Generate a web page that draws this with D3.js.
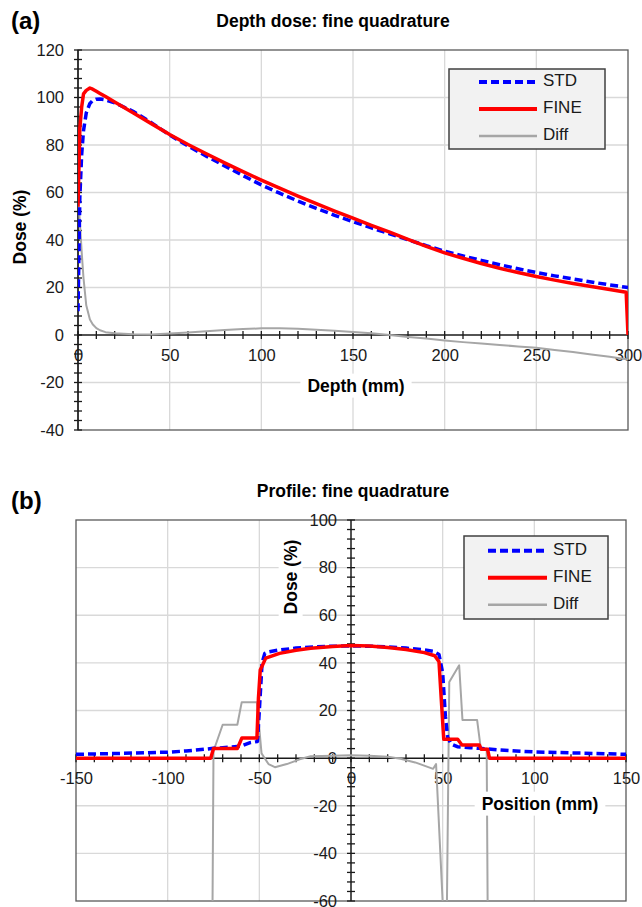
<!DOCTYPE html>
<html>
<head>
<meta charset="utf-8">
<script src="https://d3js.org/d3.v7.min.js"></script>
<style>
body { margin: 0; background: #fff; }
text { font-family: "Liberation Sans", Arial, sans-serif; }
</style>
</head>
<body>
<svg id="chart" width="642" height="907"></svg>
<script>
// ---- (a) depth dose data ----
const depth = [0, 1, 2, 3, 4.5, 6.5, 8, 10, 12, 15, 20, 30, 40, 50, 60, 70, 80, 90, 100, 110,
  120, 130, 140, 150, 160, 170, 180, 190, 200, 210, 220, 230, 240, 250, 260, 270, 280, 290, 299, 300];
const depthStd = [10, 58, 76, 86, 93.5, 97.5, 98.7, 99.3, 99.4, 99, 97.8, 94.2, 89.4, 84.2, 79.6, 75.3, 71.2, 67.1, 63.2, 59.7,
  56.4, 53.3, 50.4, 47.7, 45.1, 42.6, 40.1, 37.6, 35.3, 33.3, 31.4, 29.6, 27.9, 26.3, 24.9, 23.6, 22.3, 21.1, 20.1, 20];
const depthFine = [54, 87, 96, 101.5, 103, 104, 103.5, 102.6, 101.7, 100.4, 98.1, 93.6, 89, 84.4, 80.2, 76.3, 72.5, 68.8, 65.2, 61.8,
  58.5, 55.3, 52.2, 49.2, 46.2, 43.3, 40.3, 37.3, 34.6, 32.3, 30.1, 28.1, 26.3, 24.6, 23.1, 21.7, 20.4, 19.2, 18, 0];
const depthDiff = [57, 48, 35, 24, 12.5, 6.5, 4.5, 2.9, 2, 1.2, 0.7, 0.3, 0.2, 0.6, 1.1, 1.6, 2.1, 2.5, 2.8, 2.8,
  2.6, 2.2, 1.8, 1.3, 0.7, 0, -0.8, -1.5, -2.3, -3, -3.6, -4.2, -4.8, -5.4, -6.3, -7.2, -8.2, -9.2, -10.2, -10.3];

// ---- (b) profile data ----
const posStd = [-150, -125, -100, -90, -80, -75, -70, -65, -60, -55, -51, -50, -48.5, -47, -45, -40, -30, -20, -10, 0,
  10, 20, 30, 40, 45, 48, 50, 51.5, 52.7, 54.5, 58, 65, 70, 75, 80, 90, 100, 125, 150];
const profStd = [1.6, 2.0, 2.5, 3.0, 3.7, 4.1, 4.4, 4.7, 5.0, 6.5, 7.0, 20, 40, 44, 44.6, 45.3, 46.2, 46.7, 47, 47.1,
  47, 46.7, 46.2, 45.5, 44.8, 43.5, 35.7, 17.4, 8.9, 6.0, 4.8, 4.4, 4.1, 3.8, 3.5, 3.0, 2.6, 2.1, 1.6];
const posFine = [-150, -76.5, -75, -62, -59.5, -51.3, -50.5, -49.5, -46.5, -39, -30, -22, -10, 0, 10, 20, 30, 40, 45.7, 48,
  49.3, 50.6, 58.2, 60.5, 70, 71, 74.5, 75.5, 150];
const profFine = [0, 0, 4, 4, 8.5, 8.5, 25, 37, 42, 44, 45.3, 46.1, 46.9, 47.3, 47.1, 46.5, 45.6, 44.3, 43, 40.5,
  24, 7.9, 7.9, 5.5, 5.5, 3.7, 3.7, 0, 0];
const posDiff = [-150, -75.6, -75, -70, -62, -59.6, -51.3, -48.8, -45, -41.5, -35, -28, -22, -10, 0, 10, 20, 27, 35, 44.8,
  46.4, 50.6, 52.2, 53.6, 59, 60.8, 68.8, 70.8, 74, 74.6, 150];
const profDiff = [-70, -70, 3, 14, 14, 23.5, 23.5, 2, -2.5, -3.8, -2.5, -0.5, 0.8, 1, 1.2, 1, 0.6, -0.3, -1.8, -4.5,
  -2.5, -70, -70, 32, 39, 16, 16, 4, 4, -70, -70];

const seriesNames = ["STD", "FINE", "Diff"];
const seriesColors = ["#0000ff", "#ff0000", "#a6a6a6"];
const seriesWidths = [3.5, 3.5, 2];
const seriesDash = ["8,4", null, null];

const svg = d3.select("#chart");
const tickFont = 16.5, boldFont = 17.5;

function addBoxedText(parent, x, y, txt, rotate) {
  const g = parent.append("g").attr("transform", `translate(${x},${y})` + (rotate ? " rotate(-90)" : ""));
  const t = g.append("text").attr("text-anchor", "middle").attr("dominant-baseline", "middle")
    .attr("font-size", boldFont).attr("font-weight", "bold").attr("fill", "#000").text(txt);
  const b = t.node().getBBox();
  g.insert("rect", "text").attr("x", b.x - 7).attr("y", b.y - 2).attr("width", b.width + 14).attr("height", b.height + 4)
    .attr("fill", "#fff");
}

function panel(opt) {
  const x = d3.scaleLinear().domain(opt.xDomain).range(opt.xRange);
  const y = d3.scaleLinear().domain(opt.yDomain).range(opt.yRange);
  const [left, right] = opt.xRange;
  const [bottom, top] = opt.yRange;
  const g = svg.append("g");

  // gridlines
  g.selectAll(".gx").data(opt.xTicks).join("line")
    .attr("x1", d => x(d)).attr("x2", d => x(d)).attr("y1", top).attr("y2", bottom)
    .attr("stroke", "#d9d9d9").attr("stroke-width", 1.3);
  g.selectAll(".gy").data(opt.yTicks).join("line")
    .attr("x1", left).attr("x2", right).attr("y1", d => y(d)).attr("y2", d => y(d))
    .attr("stroke", "#d9d9d9").attr("stroke-width", 1.3);

  g.append("rect").attr("x", left).attr("y", top).attr("width", right - left).attr("height", bottom - top)
    .attr("fill", "none").attr("stroke", "#595959").attr("stroke-width", 1.3);

  // axis lines through zero
  g.append("line").attr("x1", left).attr("x2", right).attr("y1", y(0)).attr("y2", y(0))
    .attr("stroke", "#1a1a1a").attr("stroke-width", 1.5);
  g.append("line").attr("x1", x(0)).attr("x2", x(0)).attr("y1", top).attr("y2", bottom)
    .attr("stroke", "#1a1a1a").attr("stroke-width", 1.5);

  // crossing ticks
  g.selectAll(".tx").data(d3.range(opt.xDomain[0], opt.xDomain[1] + 0.1, opt.xMinor)).join("line")
    .attr("x1", d => x(d)).attr("x2", d => x(d)).attr("y1", y(0) - 4).attr("y2", y(0) + 4)
    .attr("stroke", "#1a1a1a").attr("stroke-width", 1.3);
  g.selectAll(".ty").data(d3.range(opt.yDomain[0], opt.yDomain[1] + 0.1, opt.yMinor)).join("line")
    .attr("x1", x(0) - 4).attr("x2", x(0) + 4).attr("y1", d => y(d)).attr("y2", d => y(d))
    .attr("stroke", "#1a1a1a").attr("stroke-width", 1.3);

  // tick labels
  const ax = g.append("g").attr("transform", `translate(0,${y(0)})`)
    .call(d3.axisBottom(x).tickValues(opt.xTicks.concat(opt.xEnds)).tickSize(0).tickPadding(14).tickFormat(d => String(d)));
  const ay = g.append("g").attr("transform", `translate(${x(0)},0)`)
    .call(d3.axisLeft(y).tickValues(opt.yTicks.concat(opt.yEnds)).tickSize(0).tickPadding(14).tickFormat(d => String(d)));
  [ax, ay].forEach(a => {
    a.select(".domain").remove();
    a.attr("font-family", null).attr("font-size", tickFont);
    a.selectAll("text").attr("fill", "#1a1a1a");
  });

  // series
  const clipId = "clip" + opt.id;
  svg.append("clipPath").attr("id", clipId).append("rect")
    .attr("x", left).attr("y", top).attr("width", right - left).attr("height", bottom - top);
  const line = d3.line().x(d => x(d[0])).y(d => y(d[1]));
  const sg = g.append("g").attr("clip-path", `url(#${clipId})`);
  [2, 0, 1].forEach(i => {
    const s = opt.series[i];
    sg.append("path").datum(d3.zip(s.x, s.y)).attr("d", line)
      .attr("fill", "none").attr("stroke", seriesColors[i]).attr("stroke-width", seriesWidths[i])
      .attr("stroke-dasharray", seriesDash[i]).attr("stroke-linejoin", "round");
  });

  // axis titles
  addBoxedText(g, opt.xTitlePos[0], opt.xTitlePos[1], opt.xTitle, false);
  if (opt.yTitleBox) addBoxedText(g, opt.yTitlePos[0], opt.yTitlePos[1], "Dose (%)", true);
  else g.append("text").attr("transform", `translate(${opt.yTitlePos[0]},${opt.yTitlePos[1]}) rotate(-90)`)
    .attr("text-anchor", "middle").attr("dominant-baseline", "middle")
    .attr("font-size", boldFont).attr("font-weight", "bold").text("Dose (%)");

  // chart title and panel tag
  g.append("text").attr("x", opt.titlePos[0]).attr("y", opt.titlePos[1]).attr("text-anchor", "middle")
    .attr("font-size", boldFont).attr("font-weight", "bold").text(opt.title);
  g.append("text").attr("x", 11).attr("y", opt.tagY).attr("font-size", 24).attr("font-weight", "bold").text(opt.tag);

  // legend
  const L = opt.legend;
  const lg = g.append("g");
  lg.append("rect").attr("x", L.x).attr("y", L.y).attr("width", L.w).attr("height", L.h)
    .attr("fill", "#f2f2f2").attr("stroke", "#404040").attr("stroke-width", 1.5);
  seriesNames.forEach((name, i) => {
    const ry = L.y + L.first + i * 27;
    lg.append("line").attr("x1", L.l1).attr("x2", L.l2).attr("y1", ry).attr("y2", ry)
      .attr("stroke", seriesColors[i]).attr("stroke-width", seriesWidths[i] + 0.5).attr("stroke-dasharray", seriesDash[i]);
    lg.append("text").attr("x", L.l2 + 6).attr("y", ry).attr("dominant-baseline", "middle")
      .attr("font-size", 17).attr("fill", "#1a1a1a").text(name);
  });
}

panel({
  id: "a", tag: "(a)", tagY: 29, title: "Depth dose: fine quadrature", titlePos: [333, 27],
  xDomain: [0, 300], xRange: [78, 628], yDomain: [-40, 120], yRange: [430, 50],
  xTicks: [50, 100, 150, 200, 250], xEnds: [0, 300], xMinor: 10,
  yTicks: [-20, 20, 40, 60, 80, 100], yEnds: [-40, 0, 120], yMinor: 4,
  xTitle: "Depth (mm)", xTitlePos: [356, 387], yTitlePos: [21, 227], yTitleBox: false,
  legend: { x: 449, y: 69, w: 156, h: 80, first: 13, l1: 479, l2: 537 },
  series: [{ x: depth, y: depthStd }, { x: depth, y: depthFine }, { x: depth, y: depthDiff }]
});

panel({
  id: "b", tag: "(b)", tagY: 509, title: "Profile: fine quadrature", titlePos: [353, 497],
  xDomain: [-150, 150], xRange: [76, 626], yDomain: [-60, 100], yRange: [901, 520],
  xTicks: [-100, -50, 50, 100], xEnds: [-150, 0, 150], xMinor: 10,
  yTicks: [-40, -20, 20, 40, 60, 80], yEnds: [-60, 0, 100], yMinor: 4,
  xTitle: "Position (mm)", xTitlePos: [540, 805], yTitlePos: [292, 577], yTitleBox: true,
  legend: { x: 464, y: 536, w: 144, h: 83, first: 14.7, l1: 488, l2: 547 },
  series: [{ x: posStd, y: profStd }, { x: posFine, y: profFine }, { x: posDiff, y: profDiff }]
});
</script>
</body>
</html>
